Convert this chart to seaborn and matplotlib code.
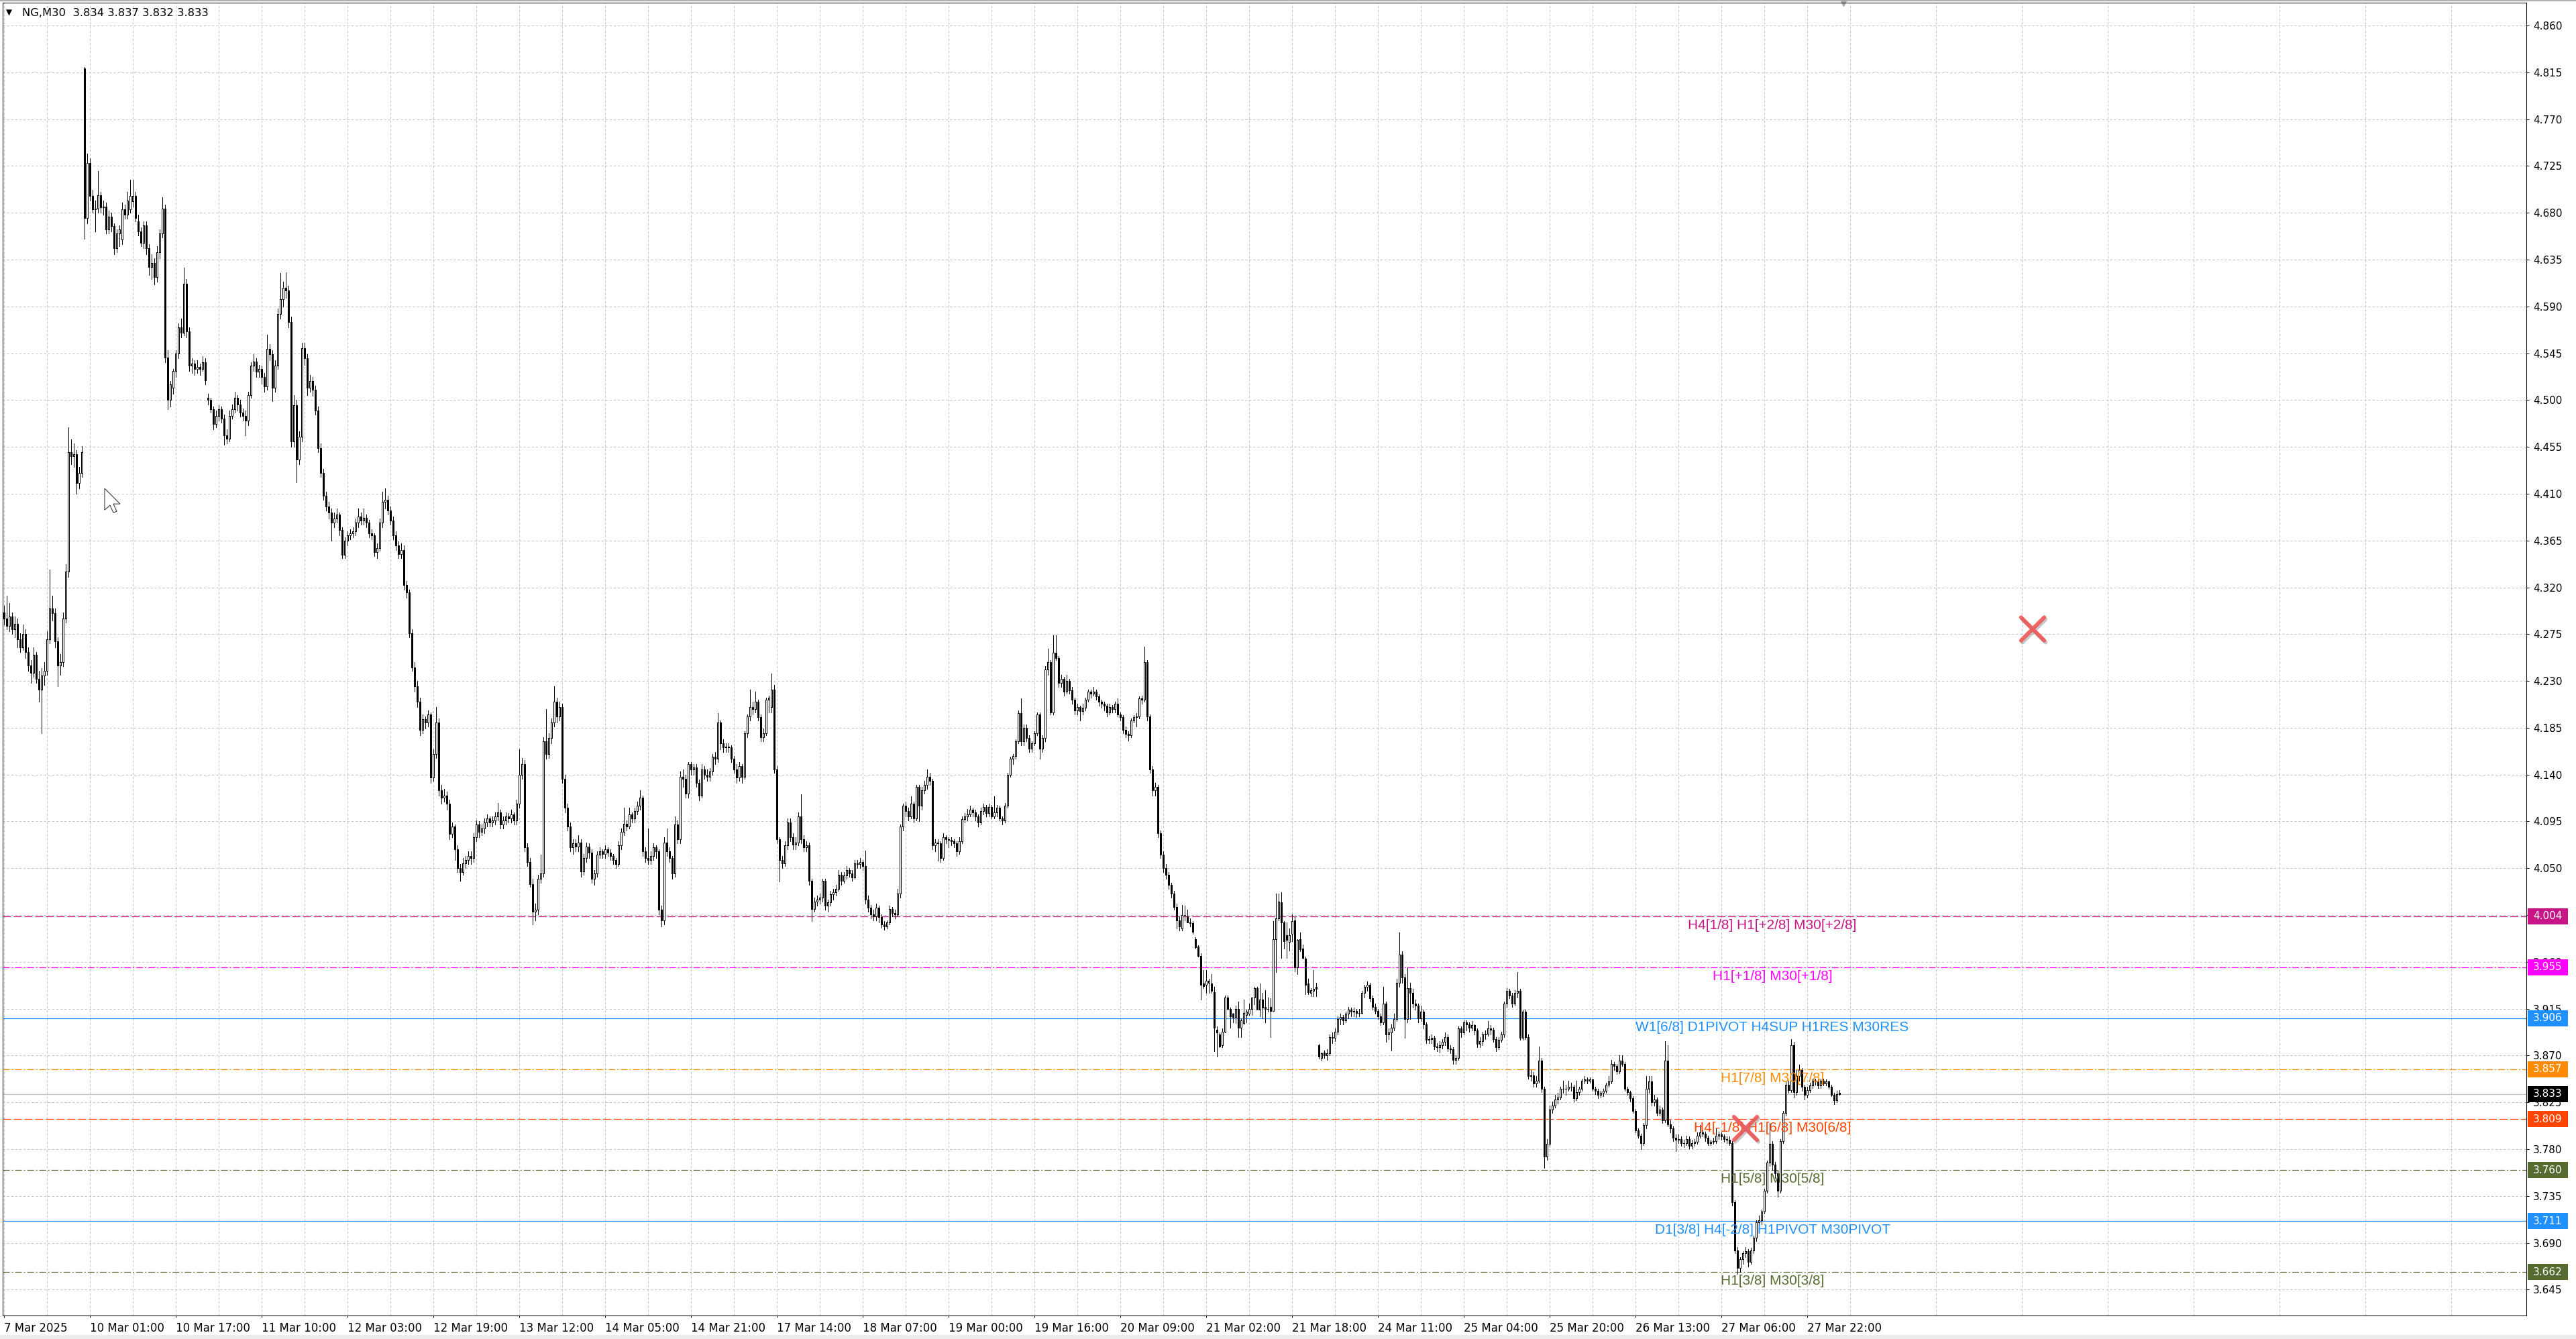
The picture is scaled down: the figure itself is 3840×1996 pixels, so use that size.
import numpy as np
import matplotlib
matplotlib.use("Agg")
import matplotlib.pyplot as plt
import matplotlib.transforms as mtransforms
import matplotlib.patheffects as pe
from matplotlib.patches import Rectangle, Polygon
import seaborn as sns

# ---------------- data ----------------
title_symbol = "NG,M30"
title_ohlc = "3.834 3.837 3.832 3.833"

opens = [
4.296,4.290,4.283,4.292,4.280,4.285,4.270,4.262,4.275,4.258,
4.245,4.238,4.255,4.232,4.222,4.235,4.240,4.270,4.300,4.295,
4.268,4.245,4.248,4.290,4.335,4.450,4.446,4.448,4.420,4.430,
4.819,4.675,4.728,4.696,4.683,4.684,4.697,4.685,4.686,4.664,
4.676,4.667,4.646,4.660,4.654,4.683,4.678,4.683,4.691,4.696,
4.672,4.662,4.651,4.668,4.646,4.628,4.632,4.618,4.642,4.660,
4.684,4.541,4.500,4.512,4.528,4.545,4.570,4.565,4.612,4.566,
4.533,4.535,4.530,4.532,4.530,4.536,4.502,4.500,4.491,4.477,
4.485,4.491,4.482,4.466,4.463,4.485,4.491,4.502,4.496,4.488,
4.485,4.480,4.505,4.533,4.537,4.527,4.530,4.522,4.513,4.549,
4.544,4.512,4.533,4.583,4.597,4.608,4.605,4.575,4.460,4.495,
4.443,4.465,4.550,4.540,4.512,4.518,4.510,4.490,4.454,4.430,
4.408,4.398,4.392,4.382,4.386,4.390,4.375,4.351,4.365,4.370,
4.372,4.374,4.382,4.388,4.384,4.387,4.382,4.372,4.370,4.354,
4.358,4.382,4.402,4.404,4.394,4.384,4.370,4.360,4.352,4.356,
4.322,4.315,4.276,4.243,4.225,4.210,4.183,4.193,4.190,4.198,
4.137,4.160,4.190,4.125,4.118,4.120,4.112,4.083,4.090,4.068,
4.050,4.046,4.055,4.058,4.062,4.060,4.080,4.092,4.085,4.088,
4.094,4.098,4.094,4.096,4.100,4.104,4.092,4.096,4.100,4.098,
4.102,4.096,4.112,4.140,4.150,4.070,4.056,4.035,4.008,4.010,
4.040,4.045,4.172,4.160,4.175,4.190,4.210,4.196,4.205,4.136,
4.108,4.090,4.070,4.074,4.071,4.075,4.047,4.060,4.071,4.065,
4.040,4.045,4.063,4.066,4.064,4.068,4.065,4.062,4.058,4.054,
4.072,4.085,4.093,4.090,4.102,4.098,4.105,4.110,4.118,4.066,
4.060,4.058,4.062,4.070,4.066,4.010,4.000,4.075,4.066,4.060,
4.045,4.092,4.078,4.138,4.136,4.122,4.150,4.145,4.147,4.132,
4.120,4.145,4.140,4.138,4.143,4.157,4.155,4.190,4.170,4.166,
4.167,4.166,4.155,4.145,4.137,4.148,4.138,4.180,4.196,4.205,
4.203,4.210,4.195,4.176,4.180,4.212,4.205,4.222,4.145,4.078,
4.058,4.055,4.072,4.094,4.080,4.073,4.075,4.100,4.078,4.070,
4.072,4.038,4.011,4.018,4.020,4.022,4.038,4.014,4.017,4.025,
4.027,4.030,4.044,4.038,4.043,4.048,4.045,4.041,4.055,4.054,
4.056,4.052,4.020,4.012,4.006,4.004,4.012,4.003,3.996,3.994,
3.998,4.011,4.007,4.006,4.026,4.090,4.110,4.105,4.100,4.112,
4.098,4.128,4.110,4.125,4.130,4.138,4.134,4.072,4.075,4.074,
4.060,4.080,4.078,4.077,4.076,4.074,4.066,4.076,4.097,4.100,
4.102,4.106,4.104,4.100,4.094,4.105,4.109,4.103,4.109,4.100,
4.104,4.108,4.098,4.096,4.110,4.140,4.155,4.158,4.172,4.199,
4.172,4.185,4.175,4.165,4.170,4.180,4.198,4.165,4.175,4.241,
4.248,4.200,4.257,4.252,4.228,4.232,4.220,4.230,4.221,4.212,
4.202,4.205,4.201,4.204,4.212,4.220,4.218,4.220,4.215,4.210,
4.208,4.206,4.200,4.205,4.203,4.208,4.198,4.195,4.183,4.179,
4.178,4.192,4.195,4.196,4.213,4.212,4.248,4.196,4.145,4.125,
4.128,4.084,4.063,4.050,4.044,4.034,4.026,4.013,4.000,3.992,
4.005,4.004,3.998,3.997,3.982,3.975,3.966,3.939,3.938,3.940,
3.939,3.931,3.895,3.890,3.880,3.893,3.926,3.915,3.910,3.907,
3.915,3.897,3.901,3.909,3.910,3.915,3.926,3.935,3.914,3.924,
3.917,3.915,3.917,3.913,3.982,4.002,4.017,3.998,3.986,3.979,
3.987,4.000,3.955,3.982,3.973,3.963,3.939,3.930,3.932,3.936,
3.880,3.868,3.873,3.870,3.872,3.888,3.887,3.893,3.905,3.907,
3.904,3.910,3.914,3.912,3.913,3.911,3.911,3.930,3.936,3.938,
3.925,3.917,3.913,3.908,3.902,3.920,3.890,3.892,3.897,3.905,
3.940,3.967,3.945,3.905,3.935,3.930,3.920,3.918,3.906,3.912,
3.900,3.885,3.886,3.887,3.879,3.878,3.880,3.883,3.888,3.877,
3.876,3.866,3.868,3.896,3.892,3.902,3.900,3.897,3.899,3.894,
3.881,3.884,3.890,3.891,3.896,3.895,3.886,3.878,3.885,3.890,
3.920,3.932,3.928,3.920,3.930,3.932,3.887,3.912,3.888,3.850,
3.851,3.843,3.846,3.865,3.838,3.773,3.785,3.818,3.822,3.828,
3.830,3.838,3.838,3.838,3.840,3.840,3.829,3.835,3.838,3.846,
3.847,3.846,3.847,3.838,3.836,3.832,3.834,3.836,3.842,3.845,
3.862,3.860,3.855,3.865,3.862,3.838,3.835,3.829,3.817,3.798,
3.793,3.786,3.803,3.838,3.845,3.825,3.828,3.815,3.818,3.808,
3.865,3.804,3.800,3.791,3.789,3.790,3.786,3.786,3.790,3.783,
3.786,3.787,3.793,3.796,3.795,3.791,3.786,3.787,3.788,3.793,
3.794,3.792,3.790,3.789,3.786,3.729,3.683,3.666,3.674,3.680,
3.682,3.672,3.683,3.695,3.710,3.712,3.720,3.740,3.767,3.785,
3.765,3.757,3.740,3.788,3.815,3.842,3.837,3.880,3.835,3.850,
3.856,3.840,3.832,3.837,3.841,3.846,3.845,3.841,3.846,3.843,
3.845,3.840,3.832,3.827,3.834]

highs = [
4.302,4.312,4.305,4.296,4.292,4.290,4.276,4.284,4.280,4.262,
4.250,4.262,4.258,4.240,4.242,4.248,4.278,4.337,4.312,4.300,
4.272,4.256,4.296,4.342,4.474,4.462,4.458,4.452,4.436,4.456,
4.820,4.737,4.732,4.702,4.692,4.720,4.700,4.692,4.690,4.682,
4.680,4.670,4.664,4.668,4.690,4.688,4.700,4.712,4.712,4.700,
4.678,4.666,4.672,4.672,4.650,4.640,4.636,4.648,4.664,4.695,
4.688,4.548,4.518,4.530,4.548,4.574,4.578,4.627,4.616,4.570,
4.540,4.538,4.538,4.535,4.542,4.540,4.506,4.502,4.494,4.490,
4.495,4.494,4.486,4.472,4.490,4.496,4.508,4.505,4.500,4.492,
4.490,4.508,4.536,4.544,4.540,4.534,4.533,4.526,4.563,4.554,
4.548,4.538,4.588,4.622,4.614,4.623,4.610,4.580,4.505,4.500,
4.470,4.555,4.555,4.544,4.524,4.522,4.514,4.494,4.458,4.434,
4.412,4.402,4.396,4.392,4.396,4.392,4.378,4.368,4.374,4.376,
4.378,4.386,4.396,4.392,4.396,4.390,4.385,4.376,4.372,4.362,
4.386,4.412,4.415,4.408,4.398,4.388,4.374,4.364,4.362,4.360,
4.326,4.318,4.280,4.248,4.230,4.214,4.198,4.196,4.202,4.200,
4.164,4.205,4.194,4.130,4.126,4.124,4.116,4.094,4.092,4.072,
4.054,4.060,4.062,4.066,4.066,4.084,4.096,4.095,4.092,4.098,
4.102,4.100,4.100,4.104,4.113,4.106,4.100,4.104,4.103,4.106,
4.104,4.116,4.164,4.156,4.154,4.074,4.060,4.040,4.016,4.044,
4.063,4.176,4.203,4.180,4.194,4.225,4.214,4.210,4.208,4.140,
4.112,4.094,4.078,4.078,4.082,4.078,4.064,4.075,4.074,4.068,
4.048,4.066,4.070,4.068,4.072,4.070,4.068,4.064,4.060,4.076,
4.088,4.108,4.096,4.108,4.104,4.108,4.114,4.125,4.120,4.070,
4.088,4.066,4.074,4.072,4.068,4.014,4.080,4.088,4.070,4.062,
4.100,4.096,4.143,4.145,4.140,4.152,4.152,4.150,4.150,4.135,
4.150,4.148,4.145,4.146,4.160,4.162,4.199,4.192,4.174,4.170,
4.170,4.168,4.158,4.150,4.152,4.150,4.182,4.198,4.222,4.210,
4.220,4.212,4.198,4.184,4.214,4.216,4.237,4.226,4.148,4.080,
4.062,4.076,4.098,4.098,4.084,4.080,4.104,4.121,4.082,4.076,
4.075,4.040,4.022,4.024,4.026,4.040,4.040,4.020,4.028,4.030,
4.034,4.048,4.046,4.046,4.052,4.050,4.048,4.058,4.058,4.060,
4.058,4.067,4.024,4.015,4.010,4.016,4.014,4.006,3.999,4.000,
4.014,4.013,4.010,4.030,4.092,4.112,4.114,4.108,4.119,4.114,
4.130,4.130,4.128,4.134,4.145,4.142,4.136,4.078,4.078,4.076,
4.084,4.082,4.080,4.080,4.078,4.076,4.080,4.100,4.103,4.107,
4.110,4.108,4.106,4.102,4.108,4.112,4.111,4.112,4.111,4.119,
4.111,4.110,4.100,4.113,4.142,4.157,4.160,4.174,4.202,4.213,
4.188,4.188,4.178,4.172,4.182,4.200,4.200,4.178,4.244,4.261,
4.250,4.274,4.274,4.254,4.236,4.234,4.236,4.232,4.224,4.214,
4.208,4.206,4.208,4.214,4.222,4.222,4.224,4.222,4.217,4.212,
4.210,4.208,4.208,4.207,4.210,4.213,4.200,4.197,4.186,4.182,
4.194,4.197,4.199,4.215,4.216,4.263,4.250,4.198,4.148,4.132,
4.130,4.086,4.066,4.054,4.046,4.036,4.028,4.016,4.004,4.015,
4.014,4.010,4.002,3.999,3.984,3.976,3.968,3.952,3.952,3.944,
3.948,3.936,3.898,3.892,3.896,3.928,3.928,3.916,3.911,3.918,
3.922,3.905,3.924,3.914,3.920,3.926,3.936,3.936,3.939,3.930,
3.933,3.926,3.925,3.999,4.026,4.026,4.027,3.999,3.998,3.992,
4.006,4.003,3.982,3.988,3.977,3.965,3.944,3.935,3.952,3.940,
3.881,3.873,3.875,3.876,3.890,3.892,3.896,3.908,3.910,3.909,
3.912,3.917,3.916,3.916,3.915,3.915,3.932,3.938,3.941,3.940,
3.928,3.920,3.915,3.910,3.936,3.922,3.896,3.900,3.910,3.944,
3.988,3.970,3.948,3.955,3.940,3.934,3.924,3.920,3.918,3.914,
3.902,3.889,3.890,3.889,3.882,3.884,3.886,3.892,3.890,3.880,
3.878,3.870,3.898,3.898,3.904,3.904,3.902,3.903,3.900,3.896,
3.888,3.893,3.894,3.903,3.899,3.897,3.888,3.888,3.893,3.922,
3.935,3.934,3.930,3.933,3.950,3.934,3.914,3.914,3.890,3.856,
3.854,3.850,3.879,3.868,3.840,3.790,3.822,3.826,3.832,3.834,
3.840,3.846,3.842,3.846,3.844,3.842,3.846,3.840,3.848,3.850,
3.849,3.849,3.848,3.840,3.838,3.836,3.838,3.844,3.850,3.866,
3.864,3.862,3.870,3.870,3.864,3.840,3.836,3.831,3.819,3.800,
3.795,3.805,3.850,3.850,3.850,3.832,3.830,3.822,3.820,3.884,
3.880,3.808,3.802,3.794,3.794,3.792,3.789,3.793,3.792,3.789,
3.790,3.796,3.803,3.798,3.797,3.793,3.789,3.791,3.800,3.797,
3.796,3.794,3.792,3.792,3.788,3.731,3.686,3.676,3.682,3.686,
3.684,3.685,3.697,3.712,3.716,3.722,3.742,3.769,3.805,3.788,
3.768,3.760,3.790,3.817,3.845,3.846,3.886,3.883,3.856,3.861,
3.858,3.842,3.840,3.844,3.848,3.848,3.847,3.848,3.848,3.847,
3.846,3.842,3.834,3.836,3.837]

lows = [
4.284,4.280,4.278,4.275,4.272,4.262,4.258,4.260,4.252,4.240,
4.228,4.234,4.228,4.210,4.180,4.226,4.236,4.266,4.288,4.262,
4.225,4.236,4.244,4.286,4.330,4.438,4.436,4.410,4.415,4.426,
4.655,4.670,4.692,4.680,4.662,4.680,4.680,4.678,4.660,4.660,
4.662,4.640,4.642,4.648,4.650,4.674,4.674,4.680,4.686,4.672,
4.658,4.648,4.646,4.640,4.620,4.616,4.611,4.614,4.636,4.656,
4.536,4.491,4.494,4.506,4.522,4.540,4.560,4.562,4.560,4.528,
4.526,4.524,4.526,4.524,4.528,4.515,4.496,4.488,4.472,4.474,
4.480,4.478,4.457,4.458,4.460,4.482,4.488,4.490,4.484,4.480,
4.466,4.476,4.502,4.528,4.522,4.522,4.516,4.508,4.510,4.538,
4.499,4.508,4.530,4.578,4.590,4.598,4.570,4.455,4.455,4.421,
4.438,4.460,4.534,4.505,4.508,4.504,4.486,4.450,4.426,4.404,
4.394,4.386,4.365,4.378,4.382,4.370,4.348,4.348,4.360,4.366,
4.368,4.370,4.378,4.380,4.380,4.378,4.368,4.366,4.350,4.348,
4.355,4.378,4.396,4.390,4.380,4.366,4.356,4.348,4.348,4.318,
4.310,4.272,4.240,4.220,4.205,4.178,4.180,4.184,4.186,4.132,
4.134,4.156,4.120,4.112,4.114,4.106,4.078,4.080,4.058,4.046,
4.038,4.044,4.050,4.054,4.054,4.056,4.076,4.080,4.082,4.084,
4.090,4.090,4.090,4.092,4.096,4.088,4.088,4.092,4.094,4.094,
4.092,4.092,4.108,4.136,4.066,4.052,4.032,3.996,4.000,4.006,
4.036,4.042,4.155,4.156,4.170,4.186,4.190,4.192,4.132,4.104,
4.086,4.066,4.064,4.066,4.066,4.042,4.044,4.056,4.060,4.036,
4.034,4.042,4.060,4.060,4.060,4.062,4.058,4.054,4.050,4.052,
4.068,4.082,4.086,4.088,4.094,4.094,4.102,4.106,4.062,4.056,
4.054,4.054,4.058,4.060,4.006,3.994,3.996,4.062,4.056,4.040,
4.042,4.074,4.074,4.128,4.118,4.118,4.140,4.140,4.128,4.115,
4.118,4.136,4.134,4.134,4.140,4.150,4.152,4.164,4.162,4.162,
4.162,4.152,4.142,4.132,4.134,4.132,4.136,4.176,4.192,4.198,
4.200,4.192,4.172,4.172,4.178,4.200,4.200,4.142,4.074,4.037,
4.050,4.052,4.068,4.076,4.068,4.068,4.072,4.074,4.066,4.066,
4.034,3.999,4.008,4.014,4.016,4.018,4.010,4.008,4.014,4.020,
4.024,4.028,4.034,4.036,4.040,4.042,4.038,4.040,4.050,4.050,
4.048,4.016,4.008,4.002,4.000,4.000,3.998,3.993,3.991,3.992,
3.996,4.004,4.002,4.004,4.022,4.086,4.100,4.096,4.098,4.094,
4.096,4.095,4.106,4.122,4.126,4.130,4.068,4.066,4.057,4.056,
4.058,4.074,4.070,4.072,4.070,4.062,4.064,4.074,4.094,4.096,
4.100,4.100,4.096,4.090,4.092,4.102,4.100,4.100,4.098,4.098,
4.100,4.096,4.092,4.094,4.108,4.138,4.150,4.155,4.170,4.168,
4.168,4.172,4.162,4.162,4.168,4.178,4.155,4.162,4.172,4.236,
4.198,4.198,4.250,4.224,4.224,4.216,4.218,4.218,4.208,4.198,
4.198,4.192,4.198,4.202,4.210,4.214,4.216,4.212,4.206,4.204,
4.202,4.196,4.198,4.200,4.200,4.196,4.192,4.180,4.176,4.173,
4.176,4.190,4.186,4.194,4.208,4.210,4.192,4.142,4.120,4.120,
4.080,4.060,4.046,4.040,4.030,4.022,4.010,3.992,3.990,3.990,
4.000,3.998,3.994,3.987,3.973,3.965,3.924,3.935,3.930,3.930,
3.930,3.874,3.869,3.878,3.878,3.892,3.914,3.897,3.902,3.901,
3.888,3.888,3.900,3.902,3.909,3.909,3.919,3.914,3.908,3.906,
3.902,3.912,3.888,3.913,3.950,4.000,3.964,3.973,3.964,3.971,
3.980,3.951,3.948,3.970,3.963,3.929,3.929,3.927,3.927,3.927,
3.867,3.865,3.868,3.866,3.870,3.882,3.884,3.890,3.900,3.900,
3.902,3.906,3.908,3.908,3.907,3.908,3.910,3.926,3.932,3.922,
3.914,3.910,3.905,3.899,3.900,3.883,3.886,3.875,3.894,3.903,
3.936,3.940,3.887,3.902,3.905,3.916,3.914,3.902,3.903,3.896,
3.882,3.882,3.882,3.876,3.874,3.873,3.877,3.880,3.874,3.872,
3.862,3.862,3.866,3.888,3.890,3.894,3.893,3.894,3.890,3.878,
3.878,3.880,3.886,3.889,3.890,3.883,3.874,3.876,3.883,3.888,
3.917,3.925,3.917,3.918,3.926,3.885,3.885,3.886,3.848,3.846,
3.840,3.840,3.844,3.835,3.762,3.770,3.783,3.815,3.820,3.824,
3.828,3.834,3.832,3.836,3.836,3.826,3.827,3.832,3.836,3.843,
3.843,3.844,3.836,3.833,3.829,3.830,3.831,3.834,3.840,3.843,
3.856,3.852,3.853,3.860,3.836,3.832,3.826,3.815,3.796,3.791,
3.780,3.784,3.800,3.834,3.822,3.822,3.812,3.812,3.805,3.806,
3.802,3.796,3.788,3.778,3.786,3.783,3.782,3.784,3.781,3.781,
3.783,3.785,3.791,3.792,3.788,3.784,3.784,3.785,3.786,3.790,
3.789,3.787,3.786,3.784,3.726,3.680,3.660,3.662,3.670,3.676,
3.667,3.670,3.680,3.692,3.706,3.708,3.718,3.738,3.764,3.760,
3.752,3.734,3.738,3.786,3.812,3.834,3.835,3.830,3.832,3.846,
3.836,3.828,3.830,3.835,3.839,3.842,3.839,3.839,3.841,3.841,
3.838,3.831,3.823,3.825,3.832]

closes = [
4.290,4.283,4.292,4.280,4.285,4.270,4.262,4.275,4.258,4.245,
4.238,4.255,4.232,4.222,4.235,4.240,4.270,4.300,4.295,4.268,
4.245,4.248,4.290,4.335,4.450,4.446,4.448,4.420,4.430,4.450,
4.675,4.728,4.696,4.683,4.684,4.697,4.685,4.686,4.664,4.676,
4.667,4.646,4.660,4.664,4.683,4.678,4.692,4.696,4.696,4.675,
4.662,4.651,4.668,4.646,4.628,4.632,4.618,4.642,4.660,4.684,
4.541,4.500,4.515,4.528,4.545,4.570,4.565,4.612,4.566,4.533,
4.535,4.530,4.532,4.530,4.536,4.519,4.500,4.491,4.477,4.485,
4.491,4.482,4.466,4.463,4.485,4.491,4.502,4.496,4.488,4.485,
4.480,4.505,4.533,4.537,4.527,4.530,4.522,4.513,4.549,4.544,
4.512,4.533,4.583,4.597,4.608,4.605,4.575,4.460,4.495,4.443,
4.465,4.550,4.540,4.512,4.518,4.510,4.490,4.454,4.430,4.408,
4.398,4.392,4.382,4.386,4.390,4.375,4.351,4.365,4.370,4.372,
4.374,4.382,4.388,4.384,4.387,4.382,4.372,4.370,4.354,4.358,
4.382,4.402,4.404,4.394,4.384,4.370,4.360,4.352,4.356,4.322,
4.315,4.276,4.243,4.225,4.210,4.183,4.193,4.190,4.198,4.137,
4.160,4.190,4.125,4.118,4.120,4.112,4.083,4.090,4.068,4.050,
4.046,4.055,4.058,4.062,4.060,4.080,4.092,4.085,4.088,4.094,
4.098,4.094,4.096,4.100,4.104,4.092,4.096,4.100,4.098,4.102,
4.096,4.112,4.140,4.150,4.070,4.056,4.035,4.008,4.010,4.040,
4.045,4.172,4.160,4.175,4.190,4.210,4.196,4.205,4.136,4.108,
4.090,4.070,4.074,4.071,4.075,4.047,4.060,4.071,4.065,4.040,
4.045,4.063,4.066,4.064,4.068,4.065,4.062,4.058,4.054,4.072,
4.085,4.093,4.090,4.102,4.098,4.105,4.110,4.118,4.066,4.060,
4.058,4.062,4.070,4.066,4.010,4.000,4.075,4.066,4.060,4.045,
4.092,4.078,4.138,4.136,4.122,4.150,4.145,4.147,4.132,4.120,
4.145,4.140,4.138,4.143,4.157,4.155,4.190,4.170,4.166,4.167,
4.166,4.155,4.145,4.137,4.148,4.138,4.180,4.196,4.205,4.203,
4.210,4.195,4.176,4.180,4.212,4.214,4.222,4.145,4.078,4.058,
4.055,4.072,4.094,4.080,4.073,4.075,4.100,4.078,4.070,4.072,
4.038,4.011,4.018,4.020,4.022,4.038,4.014,4.017,4.025,4.027,
4.030,4.044,4.038,4.043,4.048,4.045,4.041,4.055,4.054,4.056,
4.052,4.020,4.012,4.006,4.004,4.012,4.003,3.996,3.994,3.998,
4.011,4.007,4.006,4.026,4.090,4.110,4.105,4.100,4.112,4.098,
4.128,4.110,4.125,4.130,4.138,4.134,4.072,4.075,4.074,4.060,
4.080,4.078,4.077,4.076,4.074,4.066,4.076,4.097,4.100,4.102,
4.106,4.104,4.100,4.094,4.105,4.109,4.103,4.109,4.100,4.104,
4.108,4.098,4.096,4.110,4.140,4.155,4.158,4.172,4.199,4.172,
4.185,4.175,4.165,4.170,4.180,4.198,4.165,4.175,4.241,4.248,
4.200,4.257,4.252,4.228,4.232,4.220,4.230,4.221,4.212,4.202,
4.205,4.201,4.204,4.212,4.220,4.218,4.220,4.215,4.210,4.208,
4.206,4.200,4.205,4.203,4.208,4.198,4.195,4.183,4.179,4.178,
4.192,4.195,4.196,4.213,4.212,4.248,4.196,4.145,4.125,4.128,
4.084,4.063,4.050,4.044,4.034,4.026,4.013,4.000,3.994,4.005,
4.005,3.998,3.997,3.989,3.974,3.966,3.938,3.937,3.942,3.942,
3.932,3.897,3.892,3.879,3.893,3.926,3.915,3.908,3.907,3.915,
3.897,3.904,3.911,3.912,3.915,3.926,3.935,3.914,3.924,3.916,
3.915,3.915,3.913,3.982,4.002,4.018,3.998,3.980,3.981,3.986,
3.999,3.955,3.981,3.972,3.964,3.938,3.931,3.933,3.934,3.934,
3.869,3.872,3.870,3.872,3.888,3.887,3.893,3.905,3.907,3.904,
3.910,3.914,3.912,3.913,3.911,3.911,3.930,3.936,3.938,3.925,
3.917,3.913,3.908,3.902,3.920,3.890,3.892,3.897,3.905,3.940,
3.967,3.945,3.905,3.935,3.930,3.920,3.918,3.906,3.912,3.900,
3.885,3.886,3.887,3.879,3.878,3.880,3.883,3.888,3.877,3.876,
3.866,3.868,3.896,3.892,3.902,3.900,3.897,3.899,3.894,3.881,
3.884,3.890,3.891,3.896,3.895,3.886,3.878,3.885,3.890,3.920,
3.932,3.928,3.920,3.930,3.932,3.887,3.912,3.888,3.850,3.851,
3.843,3.846,3.865,3.838,3.773,3.785,3.818,3.822,3.828,3.830,
3.838,3.838,3.838,3.840,3.840,3.829,3.835,3.838,3.846,3.847,
3.846,3.847,3.838,3.836,3.832,3.834,3.836,3.842,3.845,3.862,
3.860,3.855,3.865,3.862,3.838,3.835,3.829,3.817,3.798,3.793,
3.786,3.803,3.838,3.845,3.825,3.828,3.815,3.818,3.808,3.865,
3.804,3.800,3.791,3.789,3.790,3.786,3.786,3.790,3.783,3.786,
3.787,3.793,3.796,3.795,3.791,3.786,3.787,3.788,3.793,3.794,
3.792,3.790,3.789,3.786,3.729,3.683,3.666,3.674,3.680,3.682,
3.672,3.683,3.695,3.710,3.712,3.720,3.740,3.767,3.785,3.765,
3.757,3.740,3.788,3.815,3.842,3.837,3.880,3.835,3.850,3.856,
3.840,3.832,3.837,3.841,3.846,3.845,3.841,3.846,3.843,3.845,
3.840,3.832,3.827,3.833,3.833]

time_labels = ["7 Mar 2025", "10 Mar 01:00", "10 Mar 17:00", "11 Mar 10:00",
               "12 Mar 03:00", "12 Mar 19:00", "13 Mar 12:00", "14 Mar 05:00",
               "14 Mar 21:00", "17 Mar 14:00", "18 Mar 07:00", "19 Mar 00:00",
               "19 Mar 16:00", "20 Mar 09:00", "21 Mar 02:00", "21 Mar 18:00",
               "24 Mar 11:00", "25 Mar 04:00", "25 Mar 20:00", "26 Mar 13:00",
               "27 Mar 06:00", "27 Mar 22:00"]
time_label_bars = [0, 32, 64, 96, 128, 160, 192, 224, 256, 288, 320, 352, 384,
                   416, 448, 480, 512, 544, 576, 608, 640, 672]

price_ticks = [3.645, 3.690, 3.735, 3.780, 3.825, 3.870, 3.915, 3.960, 4.005,
               4.050, 4.095, 4.140, 4.185, 4.230, 4.275, 4.320, 4.365, 4.410,
               4.455, 4.500, 4.545, 4.590, 4.635, 4.680, 4.725, 4.770, 4.815, 4.860]

level_prices = [4.004, 3.955, 3.906, 3.857, 3.809, 3.760, 3.711, 3.662]
level_names = ["H4[1/8] H1[+2/8] M30[+2/8]", "H1[+1/8] M30[+1/8]",
               "W1[6/8] D1PIVOT H4SUP H1RES M30RES", "H1[7/8] M30[7/8]",
               "H4[-1/8] H1[6/8] M30[6/8]", "H1[5/8] M30[5/8]",
               "D1[3/8] H4[-2/8] H1PIVOT M30PIVOT", "H1[3/8] M30[3/8]"]
current_price = 3.833

cross_bars = [756, 649]
cross_prices = [4.280, 3.800]
cursor_bar = 37.5
cursor_price = 4.415

# ---------------- styles / layout ----------------
level_colors = ['#C71585', '#FF00FF', '#1E90FF', '#FF8C00', '#FF4500', '#556B2F', '#1E90FF', '#556B2F']
DASH = (0, (8.6, 2.9))
DASHDOT = (0, (7.2, 2.2, 1.4, 2.2))
level_styles = [DASH, DASHDOT, '-', DASHDOT, DASH, DASHDOT, '-', DASHDOT]
label_bar = 659

sns.set_theme(style="white")
plt.rcParams['font.family'] = ['DejaVu Sans']
plt.rcParams['lines.scale_dashes'] = False

W, H = 3840, 1996
AX_L, AX_R, AX_T, AX_B = 4, 3766, 4, 1961
fig = plt.figure(figsize=(W / 100, H / 100), dpi=100)
fig.patch.set_facecolor('white')
ax = fig.add_axes([AX_L / W, (H - AX_B) / H, (AX_R - AX_L) / W, (AX_B - AX_T) / H])
ax.set_facecolor('white')

n = min(len(opens), len(highs), len(lows), len(closes))
o = np.array(opens[:n]); h = np.array(highs[:n]); l = np.array(lows[:n]); c = np.array(closes[:n])
x = np.arange(n)

ymin, ymax = 3.62015, 4.8819
ax.set_xlim(-0.5, 940)
ax.set_ylim(ymin, ymax)
px_per_price = (AX_B - AX_T) / (ymax - ymin)
px_per_bar = (AX_R - AX_L) / 940.5

# grid
ax.set_yticks(price_ticks)
ax.set_yticklabels([f"{v:.3f}" for v in price_ticks])
ax.set_xticks(time_label_bars)
ax.set_xticklabels(time_labels, ha='left')
ax.set_xticks(np.arange(16, 941, 32), minor=True)
ax.grid(True, which='both', color='#C0C0C0', linestyle=(0, (2.2, 2.2)), linewidth=0.75, zorder=0)
ax.set_axisbelow(True)

ax.yaxis.tick_right()
ax.tick_params(axis='y', which='major', right=True, left=False, labelright=True, labelleft=False,
               direction='out', length=2.9, width=0.75, pad=4.3, labelsize=11, colors='black')
ax.tick_params(axis='x', which='major', bottom=True, direction='out', length=2.2, width=0.75,
               pad=5.0, labelsize=12, colors='black')
ax.tick_params(axis='x', which='minor', bottom=False, length=0)
for s in ax.spines.values():
    s.set_color('black')
    s.set_linewidth(0.75)
    s.set_visible(True)

# current price line and level lines
ax.axhline(current_price, color='#C0C0C0', lw=0.9, zorder=1.5)
for p, col, ls in zip(level_prices, level_colors, level_styles):
    ax.axhline(p, color=col, lw=0.9, linestyle=ls, zorder=2)

# candles
up = c >= o
top = np.maximum(h, np.maximum(o, c))
bot = np.minimum(l, np.minimum(o, c))
ax.vlines(x, bot, top, color='black', lw=0.72, zorder=3, antialiased=False)
body_b = np.minimum(o, c)
body_h = np.abs(c - o)
ax.bar(x[up], body_h[up], bottom=body_b[up], width=0.5, color='white', edgecolor='black',
       linewidth=0.72, zorder=4, antialiased=False)
ax.bar(x[~up], body_h[~up], bottom=body_b[~up], width=0.5, color='black', edgecolor='black',
       linewidth=0.72, zorder=4, antialiased=False)

# level labels
lab_tr = mtransforms.offset_copy(ax.transData, fig=fig, x=0, y=-4, units='dots')
for p, name, col in zip(level_prices, level_names, level_colors):
    ax.text(label_bar, p, name, color=col, fontsize=15, family=['Liberation Sans', 'DejaVu Sans'],
            ha='center', va='top', transform=lab_tr, zorder=6)

# red crosses
sns.scatterplot(x=cross_bars, y=cross_prices, marker='x', s=620, color='#EE5656',
                linewidth=4.2, ax=ax, zorder=7, legend=False, alpha=0.9)
cross_coll = ax.collections[-1]
cross_coll.set_capstyle('round')
cross_coll.set_path_effects([pe.SimpleLineShadow(offset=(1.5, -2), shadow_color='#909090', alpha=0.5),
                             pe.Normal()])

# mouse cursor
cur_px = [(0, 0), (0, 32), (8, 25), (13, 36), (18, 34), (13, 23), (23, 23)]
cur_pts = [(cursor_bar + dx / px_per_bar, cursor_price - dy / px_per_price) for dx, dy in cur_px]
ax.add_patch(Polygon(cur_pts, closed=True, facecolor='white', edgecolor='#303030', lw=0.75, zorder=8))

# chart-shift marker
ax.plot([n + 0.5], [1.0], marker='v', ms=7, color='#A8A8A8',
        transform=mtransforms.blended_transform_factory(ax.transData, ax.transAxes), clip_on=False)

# price boxes on the right axis
ident = mtransforms.IdentityTransform()
fig.canvas.draw()


def price_box(p, face):
    ypx = ax.transData.transform((0, p))[1]
    fig.add_artist(Rectangle((AX_R + 2, ypx - 12), 60, 24, facecolor=face, edgecolor='none',
                             transform=ident, zorder=10))
    fig.text(AX_R + 10, ypx, f"{p:.3f}", color='white', fontsize=11, ha='left', va='center',
             transform=ident, zorder=11)


for p, col in zip(level_prices, level_colors):
    price_box(p, col)
price_box(current_price, 'black')

# title
fig.text(9, H - 19, "\u25BC", fontsize=8.5, ha='left', va='center', transform=ident, color='black')
fig.text(33, H - 19, f"{title_symbol}  {title_ohlc}", fontsize=11.8, ha='left', va='center',
         transform=ident, color='black')

# window chrome
fig.add_artist(Rectangle((0, 0), W, 6, facecolor='#ECECEC', edgecolor='none', transform=ident, zorder=0))
fig.add_artist(Rectangle((0, H - 2), W, 2, facecolor='#B0B0B0', edgecolor='none', transform=ident, zorder=0))

fig.savefig("out.png", dpi=100, facecolor='white')
